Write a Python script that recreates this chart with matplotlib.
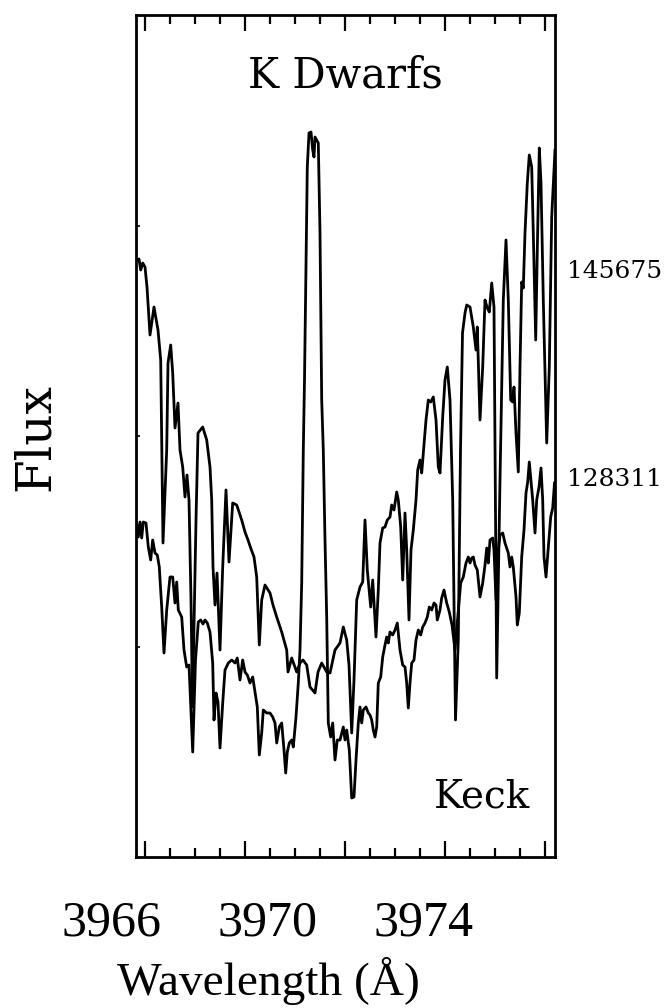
import matplotlib
matplotlib.use("Agg")
import matplotlib.pyplot as plt
from matplotlib.ticker import MultipleLocator, FixedLocator

# ---- data (wavelength in Angstrom, flux in arbitrary counts) ----
wave_145675 = [3965.83, 3965.88, 3965.914, 3965.954, 3966.00, 3966.04, 3966.10, 3966.18, 3966.26, 3966.314,
               3966.36, 3966.434, 3966.46, 3966.514, 3966.554, 3966.60, 3966.66, 3966.70, 3966.754, 3966.80,
               3966.84, 3966.88, 3966.92, 3966.95, 3967.02, 3967.06, 3967.154, 3967.234, 3967.30, 3967.334,
               3967.36, 3967.40, 3967.44, 3967.50, 3967.554, 3967.62, 3967.68, 3967.754, 3967.834, 3967.934,
               3968.00, 3968.06, 3968.114, 3968.18, 3968.234, 3968.286, 3968.334, 3968.40, 3968.50, 3968.56,
               3968.634, 3968.734, 3968.834, 3968.86, 3968.934, 3969.034, 3969.10, 3969.16, 3969.234, 3969.30,
               3969.40, 3969.46, 3969.534, 3969.634, 3969.70, 3969.80, 3969.90, 3969.966, 3970.034, 3970.08,
               3970.134, 3970.18, 3970.234, 3970.30, 3970.354, 3970.40, 3970.446, 3970.514, 3970.554, 3970.62,
               3970.666, 3970.70, 3970.754, 3970.80, 3970.846, 3970.90, 3970.934, 3970.98, 3971.034, 3971.066,
               3971.114, 3971.154, 3971.20, 3971.234, 3971.28, 3971.32, 3971.366, 3971.42, 3971.454, 3971.50,
               3971.534, 3971.566, 3971.62, 3971.666, 3971.714, 3971.766, 3971.82, 3971.866, 3971.90, 3971.954,
               3972.00, 3972.046, 3972.10, 3972.154, 3972.21, 3972.266, 3972.31, 3972.35, 3972.40, 3972.434,
               3972.50, 3972.566, 3972.62, 3972.646, 3972.70, 3972.754, 3972.80, 3972.846, 3972.886, 3972.934,
               3972.98, 3973.034, 3973.10, 3973.166, 3973.22, 3973.266, 3973.314, 3973.354, 3973.38, 3973.42,
               3973.466, 3973.50, 3973.534, 3973.566, 3973.60, 3973.646, 3973.686, 3973.734, 3973.766, 3973.814,
               3973.846, 3973.886, 3973.92, 3973.966, 3974.034, 3974.086, 3974.134, 3974.20]
flux_145675 = [597, 598, 587, 594, 590, 570, 522, 550, 527, 497,
               314, 407, 494, 512, 484, 429, 454, 407, 390, 360,
               382, 357, 257, 150, 337, 424, 430, 417, 390, 357,
               290, 252, 284, 207, 290, 367, 295, 354, 352, 337,
               325, 317, 309, 300, 280, 212, 257, 272, 264, 252,
               240, 225, 207, 185, 199, 185, 194, 197, 192, 170,
               164, 185, 194, 185, 184, 207, 214, 230, 217, 192,
               124, 177, 257, 270, 275, 337, 287, 250, 277, 220,
               267, 314, 329, 330, 337, 340, 352, 347, 365, 357,
               330, 277, 344, 307, 237, 307, 327, 357, 387, 397,
               384, 404, 437, 457, 455, 460, 437, 390, 384, 440,
               477, 490, 457, 357, 137, 217, 407, 524, 544, 552,
               550, 530, 507, 530, 437, 490, 557, 549, 545, 574,
               550, 179, 377, 557, 617, 557, 457, 455, 470, 424,
               385, 490, 575, 569, 624, 674, 702, 690, 624, 517,
               607, 709, 674, 557, 414, 490, 640, 707]

wave_128311 = [3965.83, 3965.866, 3965.90, 3965.934, 3965.966, 3966.02, 3966.066, 3966.114, 3966.154, 3966.20,
               3966.246, 3966.286, 3966.334, 3966.38, 3966.434, 3966.50, 3966.554, 3966.60, 3966.634, 3966.666,
               3966.734, 3966.78, 3966.834, 3966.88, 3966.954, 3967.01, 3967.066, 3967.114, 3967.16, 3967.20,
               3967.246, 3967.30, 3967.354, 3967.38, 3967.42, 3967.46, 3967.50, 3967.554, 3967.60, 3967.666,
               3967.734, 3967.80, 3967.846, 3967.90, 3967.954, 3968.00, 3968.046, 3968.10, 3968.154, 3968.20,
               3968.246, 3968.286, 3968.334, 3968.366, 3968.434, 3968.50, 3968.554, 3968.60, 3968.634, 3968.686,
               3968.734, 3968.78, 3968.814, 3968.846, 3968.886, 3968.934, 3968.966, 3969.02, 3969.066, 3969.10,
               3969.134, 3969.166, 3969.19, 3969.22, 3969.246, 3969.28, 3969.32, 3969.354, 3969.38, 3969.40,
               3969.434, 3969.466, 3969.50, 3969.534, 3969.566, 3969.60, 3969.634, 3969.666, 3969.714, 3969.754,
               3969.80, 3969.846, 3969.90, 3969.966, 3970.00, 3970.034, 3970.086, 3970.134, 3970.18, 3970.22,
               3970.266, 3970.30, 3970.334, 3970.366, 3970.42, 3970.466, 3970.50, 3970.534, 3970.566, 3970.60,
               3970.634, 3970.666, 3970.714, 3970.754, 3970.80, 3970.834, 3970.866, 3970.90, 3970.954, 3971.00,
               3971.046, 3971.10, 3971.154, 3971.20, 3971.234, 3971.266, 3971.30, 3971.334, 3971.38, 3971.42,
               3971.466, 3971.514, 3971.554, 3971.60, 3971.646, 3971.686, 3971.734, 3971.78, 3971.82, 3971.846,
               3971.90, 3971.934, 3971.98, 3972.034, 3972.086, 3972.14, 3972.20, 3972.25, 3972.314, 3972.366,
               3972.42, 3972.466, 3972.50, 3972.534, 3972.566, 3972.60, 3972.646, 3972.70, 3972.754, 3972.80,
               3972.834, 3972.866, 3972.90, 3972.954, 3972.98, 3973.02, 3973.066, 3973.10, 3973.154, 3973.20,
               3973.234, 3973.266, 3973.30, 3973.334, 3973.366, 3973.42, 3973.446, 3973.486, 3973.534, 3973.58,
               3973.62, 3973.654, 3973.686, 3973.714, 3973.754, 3973.80, 3973.834, 3973.88, 3973.92, 3973.954,
               3973.98, 3974.02, 3974.066, 3974.114, 3974.154, 3974.19]
flux_128311 = [335, 320, 335, 319, 335, 334, 310, 297, 317, 304,
               302, 290, 250, 204, 247, 280, 280, 254, 275, 247,
               240, 207, 190, 192, 105, 197, 235, 237, 233, 237,
               234, 225, 194, 137, 164, 155, 109, 154, 187, 194,
               197, 194, 199, 177, 197, 185, 182, 174, 180, 165,
               150, 102, 124, 147, 144, 144, 140, 134, 114, 130,
               134, 107, 84, 105, 114, 117, 110, 140, 174, 207,
               274, 407, 477, 590, 690, 724, 725, 707, 700, 720,
               717, 714, 624, 457, 407, 317, 240, 134, 120, 134,
               97, 117, 117, 130, 117, 127, 107, 59, 60, 97,
               134, 150, 134, 147, 150, 144, 142, 137, 127, 120,
               130, 174, 180, 200, 212, 220, 214, 225, 222, 227,
               234, 207, 192, 190, 174, 149, 174, 194, 197, 217,
               227, 222, 230, 234, 240, 250, 247, 254, 252, 237,
               247, 259, 267, 254, 245, 232, 207, 237, 274, 280,
               294, 300, 294, 299, 300, 292, 287, 260, 274, 292,
               309, 294, 317, 319, 307, 257, 307, 322, 324, 314,
               309, 304, 290, 300, 290, 260, 232, 244, 300, 327,
               364, 375, 395, 379, 357, 324, 357, 370, 389, 357,
               300, 280, 310, 340, 349, 374]

star_labels = ["145675", "128311"]
x_major_ticks = [3966, 3968, 3970, 3972, 3974]
x_tick_labels = ["3966", "3970", "3974"]

# ---- figure ----
W, H = 670, 1008
fig = plt.figure(figsize=(W / 100, H / 100), dpi=100)
ax = fig.add_axes([136 / W, 1 - 857 / H, (555 - 136) / W, (857 - 15) / H])

lc = "#000000"
ax.plot(wave_145675, flux_145675, color=lc, lw=2.0, solid_joinstyle="round")
ax.plot(wave_128311, flux_128311, color=lc, lw=2.0, solid_joinstyle="round")

ax.set_xlim(3965.82, 3974.2)
ax.set_ylim(0, 842)

for s in ax.spines.values():
    s.set_linewidth(2.0)

ax.xaxis.set_major_locator(FixedLocator(x_major_ticks))
ax.xaxis.set_minor_locator(MultipleLocator(0.5))
ax.tick_params(axis="x", which="both", direction="in", top=True, bottom=True,
               labelbottom=False, width=1.6)
ax.tick_params(axis="x", which="major", length=11.5)
ax.tick_params(axis="x", which="minor", length=6.5)
ax.yaxis.set_major_locator(FixedLocator([842 * 0.25, 842 * 0.5, 842 * 0.75]))
ax.tick_params(axis="y", which="major", direction="in", length=3, width=1.2,
               left=True, right=False, labelleft=False)

# tick labels (positioned as in the reference)
serif_num = "Liberation Serif"
for lab, xc in zip(x_tick_labels, [112, 267, 424]):
    fig.text(xc / W, 1 - 935 / H, lab, ha="center", va="baseline",
             fontsize=36, family=serif_num)

fig.text(268 / W, 1 - 995 / H, "Wavelength (Å)", ha="center", va="baseline",
         fontsize=34, family=serif_num)
fig.text(35 / W, 1 - 437 / H, "Flux", ha="center", va="center", rotation=90,
         fontsize=35, family="DejaVu Serif")

ax.text(0.5, 1 - (76 - 15) / 842, "K Dwarfs", transform=ax.transAxes,
        ha="center", va="center", fontsize=30, family="DejaVu Serif")
ax.text((482 - 136) / 419, 1 - (797 - 15) / 842, "Keck", transform=ax.transAxes,
        ha="center", va="center", fontsize=28, family="DejaVu Serif")

for lab, yc in zip(star_labels, [272, 480]):
    fig.text(567 / W, 1 - yc / H, lab, ha="left", va="center",
             fontsize=18, family="DejaVu Serif")

fig.savefig("out.png", dpi=100)
